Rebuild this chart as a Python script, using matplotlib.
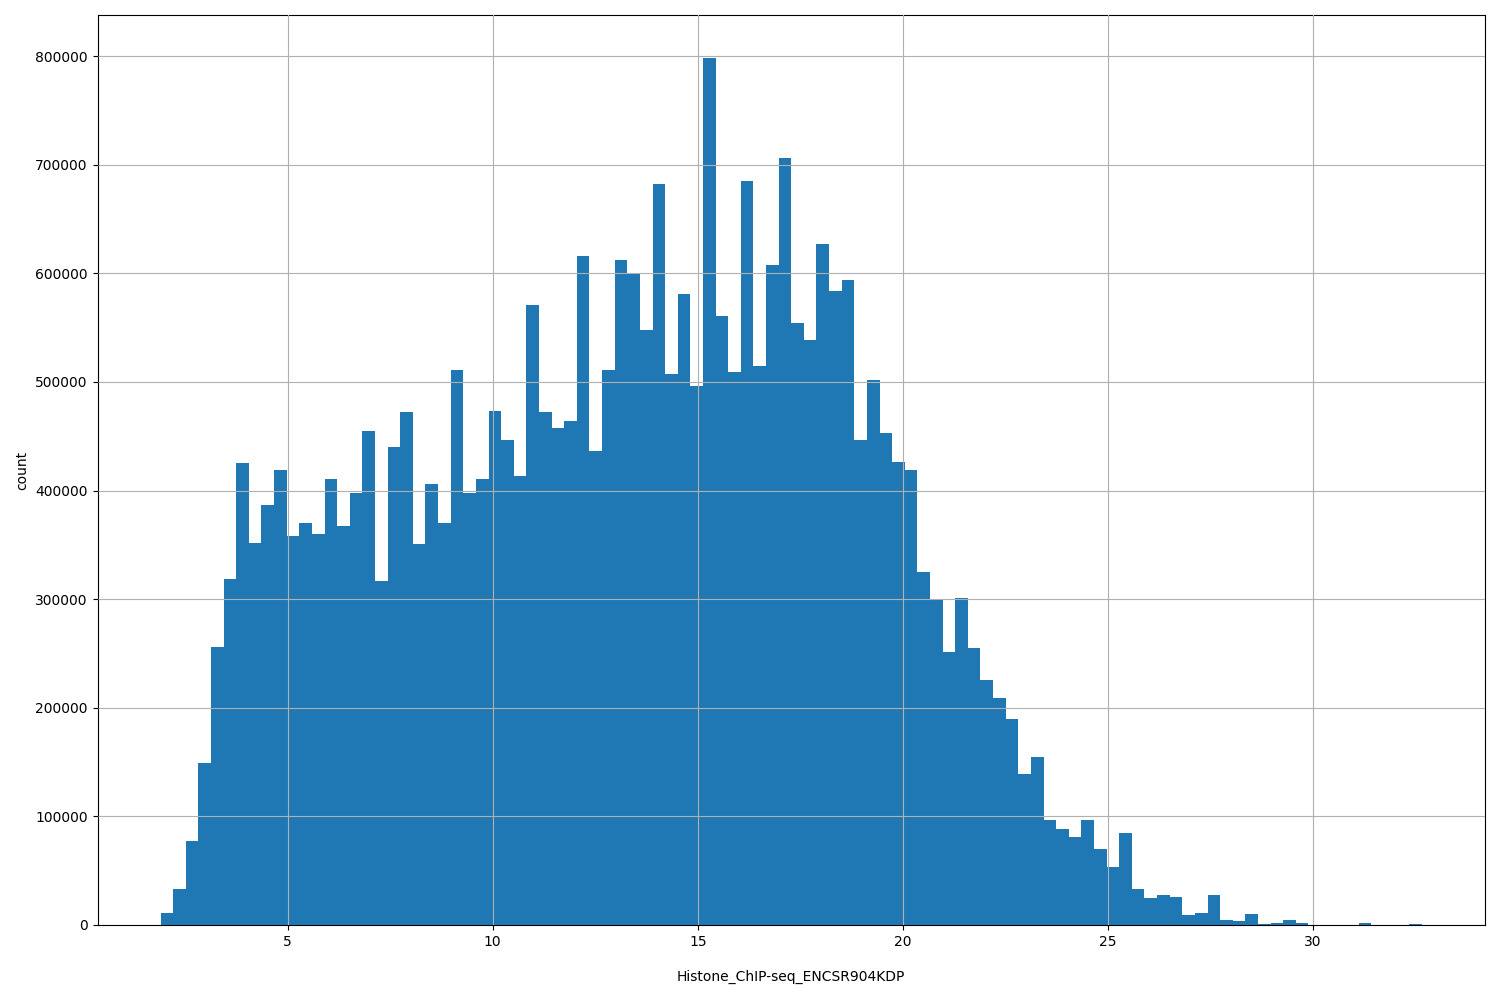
import numpy as np
import matplotlib
matplotlib.use("Agg")
import matplotlib.pyplot as plt

x_min, x_max, n_bins = 1.9, 32.66, 100
counts = [11000,33000,77000,149000,256000,319000,425000,352000,387000,419000,
          358000,370000,360000,411000,367000,398000,455000,317000,440000,472000,
          351000,406000,370000,511000,398000,411000,473000,447000,413000,571000,
          472000,458000,464000,616000,436000,511000,612000,599000,548000,682000,
          507000,581000,496000,798000,561000,509000,685000,515000,608000,706000,
          554000,539000,627000,584000,594000,447000,502000,453000,426000,419000,
          325000,300000,251000,301000,255000,226000,209000,190000,139000,155000,
          97000,88000,81000,97000,70000,53000,85000,33000,25000,28000,
          26000,9000,11000,28000,5000,4000,10000,500,2000,5000,
          2000,300,300,0,0,2000,0,0,0,1000]

edges = np.linspace(x_min, x_max, n_bins + 1)
centers = (edges[:-1] + edges[1:]) / 2

fig = plt.figure(figsize=(15, 10), dpi=100)
ax = fig.add_axes([0.065, 0.075, 0.925, 0.91])
ax.hist(centers, bins=edges, weights=counts, color="#1f77b4")
ax.grid(True, color="#b0b0b0", linewidth=0.8)
ax.set_axisbelow(False)
ax.set_ylabel("count")
ax.set_xlabel("Histone_ChIP-seq_ENCSR904KDP", labelpad=15)
fig.savefig("out.png")
